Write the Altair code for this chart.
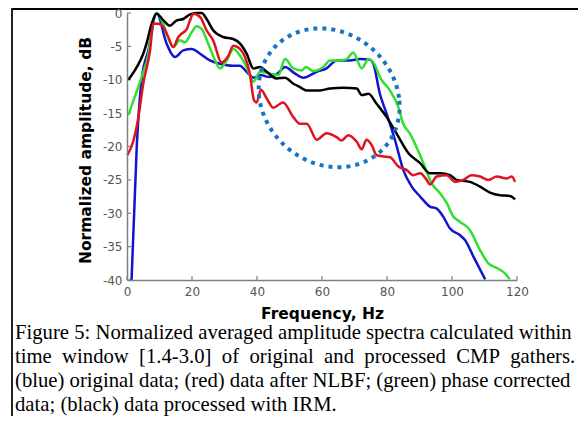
import altair as alt
import pandas as pd
import numpy as np

# ---- data ----
names = ["original", "phase corrected", "IRM", "NLBF"]
colors = ["#1414cc", "#2fe02f", "#000000", "#e0141e"]

freq_blue = [1.4, 3.0, 4.5, 6.6, 9.1, 12.2, 14.8, 17.3, 19.9, 22.5, 25.5, 28.6, 32.6, 34.7, 36.8,
             39.0, 41.0, 44.0, 46.5, 48.6, 51.5, 54.2, 58.4, 61.4, 64.5, 68.6, 71.7, 74.8, 75.8,
             77.8, 79.9, 82.5, 85.0, 87.6, 90.2, 93.2, 95.3, 97.3, 99.4, 102.5, 104.0, 106.6, 110.2]
db_blue = [-40, -20, -10, -5.5, 0, -4.6, -6.6, -5.6, -5.4, -6.1, -7.1, -7.6, -7.9, -7.9, -8.8,
           -9.7, -9.3, -9.6, -9.0, -8.1, -9.0, -9.7, -8.8, -8.3, -7.1, -7.1, -6.9, -7.0, -7.6,
           -12.1, -15.1, -19.1, -23.5, -26.0, -27.5, -29.0, -29.3, -30.5, -32.3, -33.3, -34.0, -36.5, -39.9]

freq_green = [0.4, 2.0, 4.5, 6.6, 8.1, 9.1, 10.7, 12.2, 14.2, 16.3, 17.8, 19.9, 21.4, 23.0, 25.0,
              27.1, 28.6, 30.7, 32.7, 34.8, 36.8, 38.9, 40.9, 44.0, 46.6, 48.6, 51.2, 53.8, 55.0,
              57.3, 60.4, 62.5, 65.5, 67.6, 69.6, 72.2, 74.3, 76.3, 77.8, 80.9, 83.5, 85.0, 87.1,
              89.1, 91.2, 93.7, 96.3, 98.4, 100.4, 102.5, 105.5, 108.6, 111.2, 113.8, 116.3, 117.8]
db_green = [-15.3, -13.1, -9.6, -6.1, -1.1, 0, -1.1, -3.1, -5.1, -4.1, -4.4, -2.9, -2.0, -2.4, -4.6,
            -7.1, -8.3, -7.1, -5.4, -6.4, -8.1, -10.3, -8.8, -9.1, -9.3, -6.9, -8.3, -8.6, -8.1,
            -8.7, -8.1, -7.1, -7.1, -6.9, -5.9, -8.3, -6.9, -7.8, -9.6, -11.6, -14.1, -16.6, -18.1,
            -20.1, -22.5, -25.5, -27.0, -28.5, -30.5, -31.3, -32.5, -35.5, -37.5, -38.2, -39.0, -39.9]

freq_black = [0.4, 3.0, 5.0, 6.0, 7.6, 9.1, 11.2, 13.2, 15.3, 17.3, 19.4, 21.9, 23.0, 24.5, 26.5,
              29.6, 32.7, 34.8, 36.8, 38.9, 40.9, 43.0, 46.0, 48.6, 51.2, 53.2, 55.3, 59.4, 62.5,
              66.6, 70.7, 72.2, 74.3, 76.8, 79.9, 83.0, 86.6, 90.2, 93.2, 96.3, 99.4, 101.4, 105.5,
              108.6, 111.7, 114.8, 117.8, 119.4]
db_black = [-10.0, -8.1, -6.1, -4.6, -1.6, -0.1, -1.1, -1.9, -1.1, -0.9, -0.2, 0, 0, -0.9, -2.6,
            -3.6, -3.9, -4.6, -6.1, -8.3, -8.1, -8.8, -9.8, -9.7, -10.6, -11.1, -11.6, -11.6, -11.3,
            -11.2, -11.3, -12.3, -12.1, -13.6, -15.6, -18.1, -21.0, -22.5, -24.0, -24.0, -24.3, -25.0, -25.3,
            -26.0, -26.9, -27.3, -27.4, -27.9]

freq_red = [0.1, 2.0, 3.5, 5.0, 7.1, 8.1, 9.6, 11.2, 12.7, 14.2, 15.8, 16.8, 18.4, 19.4, 20.4,
            22.5, 24.5, 26.5, 29.1, 31.2, 32.7, 34.8, 36.3, 37.8, 39.1, 39.9, 41.2, 43.0, 45.0,
            48.0, 51.2, 53.2, 55.3, 58.4, 61.4, 64.5, 66.0, 68.1, 70.7, 72.2, 73.7, 75.3, 76.8,
            78.9, 80.9, 83.5, 86.0, 88.1, 90.2, 92.2, 93.2, 95.3, 98.4, 100.9, 103.5, 106.0, 108.6,
            111.2, 113.8, 116.8, 118.4, 119.4]
db_red = [-21.3, -19.1, -15.6, -10.6, -5.6, -1.6, -1.6, -2.1, -3.6, -5.1, -3.6, -3.1, -2.4, -1.1, -0.1,
          -0.6, -2.6, -4.1, -7.4, -6.4, -4.9, -5.4, -6.6, -9.1, -13.1, -13.4, -11.5, -12.8, -14.2,
          -13.4, -15.6, -16.6, -16.6, -19.0, -18.0, -18.6, -19.1, -18.3, -19.3, -20.4, -19.0, -19.8, -21.3,
          -21.5, -21.6, -23.0, -23.5, -24.3, -24.0, -25.0, -25.7, -24.5, -24.3, -25.3, -25.0, -24.3, -24.5,
          -25.0, -24.5, -24.8, -24.5, -25.3]

x_ticks = [0, 20, 40, 60, 80, 100, 120]
y_ticks = [-40, -35, -30, -25, -20, -15, -10, -5, 0]

# dotted ellipse annotation (center, radii, shear in data units)
ell_center = (62.2, -12.7)
ell_radii = (21.5, 10.4)
ell_shear = 2.8

caption = [
    "Figure 5: Normalized averaged amplitude spectra calculated within",
    "time\u2005 window\u2005 [1.4-3.0]\u2005 of\u2005 original\u2005 and\u2005 processed\u2005 CMP\u2005 gathers.",
    "(blue) original data; (red) data after NLBF; (green) phase corrected",
    "data; (black) data processed with IRM.",
]

# ---- build tables ----
series_data = [(freq_blue, db_blue), (freq_green, db_green), (freq_black, db_black), (freq_red, db_red)]
rows = []
for name, (fs, ds) in zip(names, series_data):
    for i, (f, d) in enumerate(zip(fs, ds)):
        rows.append({"series": name, "freq": f, "db": d, "i": i})
df = pd.DataFrame(rows)

t = np.linspace(0, 2 * np.pi, 181)
ell = pd.DataFrame({
    "freq": ell_center[0] + ell_radii[0] * np.cos(t) - ell_shear * np.sin(t),
    "db": ell_center[1] + ell_radii[1] * np.sin(t),
    "i": np.arange(len(t)),
})

W, H = 390, 267
PADL, PADT = 119, 5
TOTW, TOTH = 570, 408

xscale = alt.Scale(domain=[0, 120], nice=False, zero=False)
yscale = alt.Scale(domain=[-40, 0], nice=False, zero=False)

x_axis = alt.Axis(values=x_ticks, title="Frequency, Hz", ticks=False, grid=False, labelFlush=False,
                  domainColor="#808080", domainWidth=1.5, zindex=1,
                  labelColor="#555555", labelFont="DejaVu Sans", labelFontSize=12, labelPadding=6,
                  titleFont="DejaVu Sans", titleFontSize=15.5, titleFontWeight="bold", titleColor="#000000",
                  titleX=W / 2, titleY=33, titleAlign="center", titleBaseline="middle")
y_axis = alt.Axis(values=y_ticks, title="Normalized amplitude, dB", ticks=False, grid=False, labelFlush=False,
                  domainColor="#808080", domainWidth=1.5, zindex=1,
                  labelExpr="datum.value == 0 ? '0' : '-' + abs(datum.value)",
                  labelColor="#555555", labelFont="DejaVu Sans", labelFontSize=12, labelPadding=5,
                  titleFont="DejaVu Sans", titleFontSize=15.5, titleFontWeight="bold", titleColor="#000000",
                  titleAngle=270, titleX=-42, titleY=137, titleAlign="center", titleBaseline="middle")

X = alt.X("freq:Q", scale=xscale, axis=x_axis)
Y = alt.Y("db:Q", scale=yscale, axis=y_axis)

layers = []

one = pd.DataFrame({"a": [0]})
# frame lines of the figure box
layers.append(alt.Chart(one).mark_rule(color="#000000", strokeWidth=2)
              .encode(x=alt.value(-PADL + 4), x2=alt.value(TOTW - PADL), y=alt.value(-PADT + 1)))
layers.append(alt.Chart(one).mark_rule(color="#222222", strokeWidth=2)
              .encode(x=alt.value(-PADL + 4), y=alt.value(-PADT), y2=alt.value(TOTH - PADT)))

# inward tick marks
layers.append(alt.Chart(pd.DataFrame({"freq": x_ticks})).mark_rule(color="#808080", strokeWidth=1.2)
              .encode(x=X, y=alt.value(H), y2=alt.value(H - 4)))
layers.append(alt.Chart(pd.DataFrame({"db": y_ticks})).mark_rule(color="#808080", strokeWidth=1.2)
              .encode(y=Y, x=alt.value(0), x2=alt.value(4)))

for name, col in zip(names, colors):
    layers.append(alt.Chart(df).transform_filter(alt.datum.series == name)
                  .mark_line(color=col, strokeWidth=2.5, interpolate="monotone")
                  .encode(x=X, y=Y, order="i:Q"))

layers.append(alt.Chart(ell).mark_line(color="#1a73c2", strokeWidth=4, strokeDash=[4, 5])
              .encode(x=X, y=Y, order="i:Q"))

# caption
for k, line in enumerate(caption):
    layers.append(alt.Chart(one).mark_text(font="Liberation Serif", fontSize=20.7, color="#000000",
                                           align="left", baseline="alphabetic")
                  .encode(x=alt.value(15 - 8 - PADL), y=alt.value(339 - 8 - PADT + 24 * k),
                          text=alt.value(line)))

chart = alt.layer(*layers).properties(
    width=W, height=H,
    padding={"left": PADL, "top": PADT, "right": TOTW - PADL - W, "bottom": TOTH - PADT - H},
    autosize=alt.AutoSizeParams(type="none"),
).configure_view(stroke=None)

chart.save("out.html", embed_options={"renderer": "svg", "actions": False})
